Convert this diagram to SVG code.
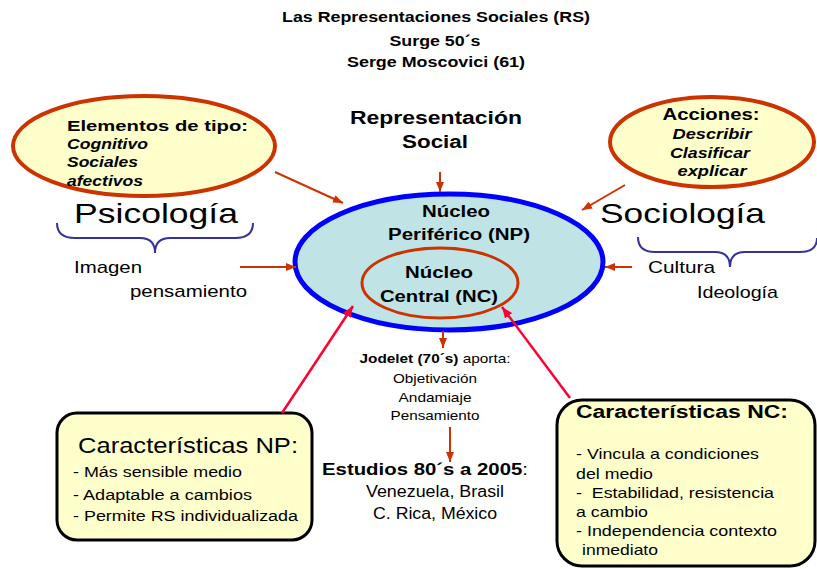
<svg xmlns="http://www.w3.org/2000/svg" width="817" height="569" viewBox="0 0 817 569">
<style>
text{font-family:"Liberation Sans",Arial,sans-serif;fill:#000}
.b{font-weight:bold}
.bi{font-weight:bold;font-style:italic}
.c{text-anchor:middle}
.yel{fill:#FFFFCC;stroke:#CC3300;stroke-width:4}
.box{fill:#FFFFCC;stroke:#000;stroke-width:3}
.brace{fill:none;stroke:#333399;stroke-width:2}
.arr{stroke:#CC3300;stroke-width:2;fill:none}
.red{stroke:#FF0033;stroke-width:2.5;fill:none}
</style>
<defs>
<marker id="ah" markerUnits="userSpaceOnUse" markerWidth="10" markerHeight="8" refX="10" refY="4" orient="auto"><path d="M0,0 L10,4 L0,8 z" fill="#CC3300"/></marker>
<marker id="rh" markerUnits="userSpaceOnUse" markerWidth="11" markerHeight="9" refX="11" refY="4.5" orient="auto"><path d="M0,0 L11,4.5 L0,9 z" fill="#FF0033"/></marker>
</defs>
<rect width="817" height="569" fill="#fff"/>

<g id="title">
<text class="b c" x="436" y="22" font-size="14" textLength="308" lengthAdjust="spacingAndGlyphs">Las Representaciones Sociales (RS)</text>
<text class="b c" x="435" y="46" font-size="14" textLength="91" lengthAdjust="spacingAndGlyphs">Surge 50´s</text>
<text class="b c" x="436" y="67" font-size="14" textLength="178" lengthAdjust="spacingAndGlyphs">Serge Moscovici (61)</text>
</g>

<g id="rep-social">
<text class="b c" x="436" y="124" font-size="18" textLength="172" lengthAdjust="spacingAndGlyphs">Representación</text>
<text class="b c" x="435" y="148" font-size="18" textLength="66" lengthAdjust="spacingAndGlyphs">Social</text>
</g>

<g id="elementos">
<ellipse class="yel" cx="144" cy="146" rx="131" ry="50"/>
<text class="b" x="67" y="131" font-size="15" textLength="181" lengthAdjust="spacingAndGlyphs">Elementos de tipo:</text>
<text class="bi" x="67" y="149" font-size="14" textLength="81" lengthAdjust="spacingAndGlyphs">Cognitivo</text>
<text class="bi" x="67" y="167" font-size="14" textLength="71" lengthAdjust="spacingAndGlyphs">Sociales</text>
<text class="bi" x="67" y="186" font-size="14" textLength="76" lengthAdjust="spacingAndGlyphs">afectivos</text>
</g>

<g id="psicologia">
<text x="74" y="223" font-size="28" textLength="164" lengthAdjust="spacingAndGlyphs">Psicología</text>
<path class="brace" d="M57,223 Q57,238 75,238 L140,238 Q155,238 155,253 Q155,238 170,238 L235,238 Q253,238 253,223"/>
<text x="74" y="273" font-size="17" textLength="68" lengthAdjust="spacingAndGlyphs">Imagen</text>
<text x="130" y="297" font-size="17" textLength="117" lengthAdjust="spacingAndGlyphs">pensamiento</text>
</g>

<g id="acciones">
<ellipse class="yel" cx="712" cy="142" rx="102" ry="45"/>
<text class="b c" x="711" y="120" font-size="16" textLength="97" lengthAdjust="spacingAndGlyphs">Acciones:</text>
<text class="bi c" x="712" y="139" font-size="14" textLength="79" lengthAdjust="spacingAndGlyphs">Describir</text>
<text class="bi c" x="710" y="158" font-size="14" textLength="80" lengthAdjust="spacingAndGlyphs">Clasificar</text>
<text class="bi c" x="712" y="176" font-size="14" textLength="69" lengthAdjust="spacingAndGlyphs">explicar</text>
</g>

<g id="sociologia">
<text x="600" y="223" font-size="28" textLength="165" lengthAdjust="spacingAndGlyphs">Sociología</text>
<path class="brace" d="M638,237 Q638,252 655,252 L715,252 Q730,252 730,267 Q730,252 745,252 L800,252 Q817,252 817,238"/>
<text x="648" y="273" font-size="17" textLength="67" lengthAdjust="spacingAndGlyphs">Cultura</text>
<text x="697" y="298" font-size="17" textLength="81" lengthAdjust="spacingAndGlyphs">Ideología</text>
</g>

<g id="nucleo-periferico">
<ellipse cx="449" cy="262" rx="154" ry="68" fill="#C0E4E6" stroke="#0000FF" stroke-width="5"/>
<text class="b c" x="456" y="217" font-size="16" textLength="68" lengthAdjust="spacingAndGlyphs">Núcleo</text>
<text class="b c" x="459" y="240" font-size="16" textLength="142" lengthAdjust="spacingAndGlyphs">Periférico (NP)</text>
</g>

<g id="nucleo-central">
<ellipse cx="440" cy="283" rx="78" ry="35" fill="none" stroke="#CC3300" stroke-width="3"/>
<text class="b c" x="439" y="278" font-size="16" textLength="68" lengthAdjust="spacingAndGlyphs">Núcleo</text>
<text class="b c" x="439" y="302" font-size="16" textLength="118" lengthAdjust="spacingAndGlyphs">Central (NC)</text>
</g>

<g id="jodelet">
<text class="c" x="435" y="363" font-size="13" textLength="151" lengthAdjust="spacingAndGlyphs"><tspan class="b">Jodelet (70´s)</tspan> aporta:</text>
<text class="c" x="435" y="383" font-size="13" textLength="84" lengthAdjust="spacingAndGlyphs">Objetivación</text>
<text class="c" x="435" y="402" font-size="13" textLength="73" lengthAdjust="spacingAndGlyphs">Andamiaje</text>
<text class="c" x="435" y="420" font-size="13" textLength="89" lengthAdjust="spacingAndGlyphs">Pensamiento</text>
</g>

<g id="estudios">
<text x="322" y="475" font-size="17" textLength="206" lengthAdjust="spacingAndGlyphs"><tspan class="b">Estudios 80´s a 2005</tspan>:</text>
<text class="c" x="435" y="497" font-size="16" textLength="138" lengthAdjust="spacingAndGlyphs">Venezuela, Brasil</text>
<text class="c" x="435" y="519" font-size="16" textLength="124" lengthAdjust="spacingAndGlyphs">C. Rica, México</text>
</g>

<g id="caracteristicas-np">
<rect class="box" x="57" y="413" width="255" height="127" rx="20"/>
<text x="78" y="453" font-size="22" textLength="220" lengthAdjust="spacingAndGlyphs">Características NP:</text>
<text x="73" y="477" font-size="14" textLength="169" lengthAdjust="spacingAndGlyphs">- Más sensible medio</text>
<text x="73" y="500" font-size="14" textLength="179" lengthAdjust="spacingAndGlyphs">- Adaptable a cambios</text>
<text x="73" y="521" font-size="14" textLength="225" lengthAdjust="spacingAndGlyphs">- Permite RS individualizada</text>
</g>

<g id="caracteristicas-nc">
<rect class="box" x="557" y="400" width="258" height="166" rx="25"/>
<text class="b" x="576" y="418" font-size="18" textLength="212" lengthAdjust="spacingAndGlyphs">Características NC:</text>
<text x="576" y="459" font-size="15" textLength="183" lengthAdjust="spacingAndGlyphs">- Vincula a condiciones</text>
<text x="576" y="479" font-size="15" textLength="77" lengthAdjust="spacingAndGlyphs">del medio</text>
<text x="576" y="498" font-size="15" textLength="198" lengthAdjust="spacingAndGlyphs" xml:space="preserve">-  Estabilidad, resistencia</text>
<text x="576" y="517" font-size="15" textLength="72" lengthAdjust="spacingAndGlyphs">a cambio</text>
<text x="576" y="536" font-size="15" textLength="201" lengthAdjust="spacingAndGlyphs">- Independencia contexto</text>
<text x="582" y="555" font-size="15" textLength="76" lengthAdjust="spacingAndGlyphs">inmediato</text>
</g>

<g id="connectors">
<line class="arr" x1="275" y1="172" x2="343" y2="203" marker-end="url(#ah)"/>
<line class="arr" x1="440" y1="172" x2="440" y2="192" marker-end="url(#ah)"/>
<line class="arr" x1="625" y1="185" x2="582" y2="210" marker-end="url(#ah)"/>
<line class="arr" x1="240" y1="267" x2="296" y2="267" marker-end="url(#ah)"/>
<line class="arr" x1="632" y1="267" x2="605" y2="267" marker-end="url(#ah)"/>
<line class="arr" x1="443" y1="331" x2="443" y2="348" marker-end="url(#ah)"/>
<line class="arr" x1="450" y1="427" x2="450" y2="462" marker-end="url(#ah)"/>
<line class="red" x1="282" y1="413" x2="353" y2="306" marker-end="url(#rh)"/>
<line class="red" x1="570" y1="398" x2="502" y2="307" marker-end="url(#rh)"/>
</g>
</svg>
